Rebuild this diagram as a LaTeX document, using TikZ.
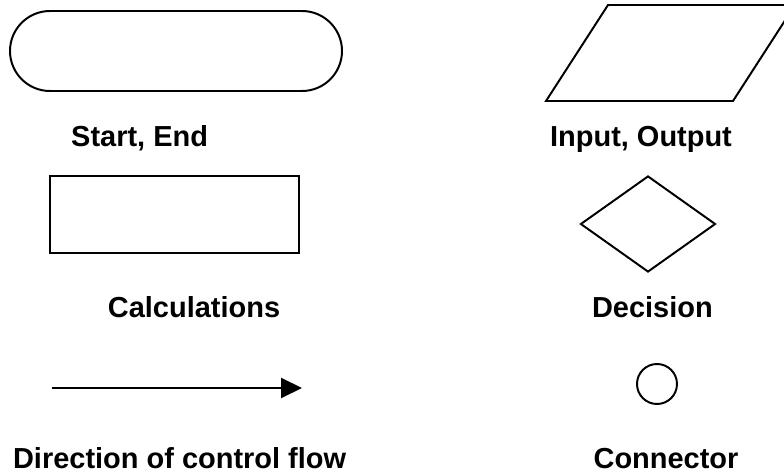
\documentclass[tikz,border=0pt]{standalone}
\usepackage{fontspec}
\setmainfont{Liberation Sans}
\usetikzlibrary{arrows.meta, positioning, shapes.geometric}

\begin{document}
\begin{tikzpicture}[
    every node/.style={font=\fontsize{20.6}{24}\selectfont\bfseries},
    shape box/.style={draw, line width=1.4pt, inner sep=0pt},
    term/.style={shape box, rectangle, minimum width=8.3cm, minimum height=2cm, rounded corners=1cm},
    calc/.style={shape box, rectangle, minimum width=6.225cm, minimum height=1.925cm},
    io/.style={line width=1.4pt, line join=miter},
    decide/.style={shape box, diamond, minimum width=3.375cm, minimum height=2.4cm},
    conn/.style={shape box, circle, minimum size=1cm},
    lbl/.style={anchor=base, inner sep=0pt},
    arrow/.style={-{Triangle[length=0.525cm, width=0.5cm]}, line width=1.4pt}
]
\clip (0,0) rectangle (19.6,-11.9);

% Left column shapes
\node[term] (start) at (4.4,-1.275) {};
\node[calc] (calcs) at (4.36,-5.36) {};
\coordinate (flowa) at (1.3,-9.7);
\coordinate (flowb) at (7.55,-9.7);
\draw[arrow] (flowa) -- (flowb);

% Right column shapes
\coordinate (inoutbl) at (13.65,-2.525);
\coordinate (inoutbr) at (18.325,-2.525);
\coordinate (inouttr) at (19.875,-0.125);
\coordinate (inouttl) at (15.2,-0.125);
\draw[io] (inoutbl) -- (inoutbr) -- (inouttr) -- (inouttl) -- cycle;
\node[decide] (dec) at (16.2,-5.6) {};
\node[conn] (jump) at (16.425,-9.6) {};

% Labels
\node[lbl] (startlbl) at (3.49,-3.675) {Start, End};
\node[lbl] (calclbl) at (4.85,-7.925) {Calculations};
\node[lbl] (flowlbl) at (4.49,-11.7) {Direction of control flow};
\node[lbl] (iolbl) at (16.025,-3.675) {Input, Output};
\node[lbl] (declbl) at (16.31,-7.925) {Decision};
\node[lbl] (connlbl) at (16.65,-11.7) {Connector};

\end{tikzpicture}
\end{document}
